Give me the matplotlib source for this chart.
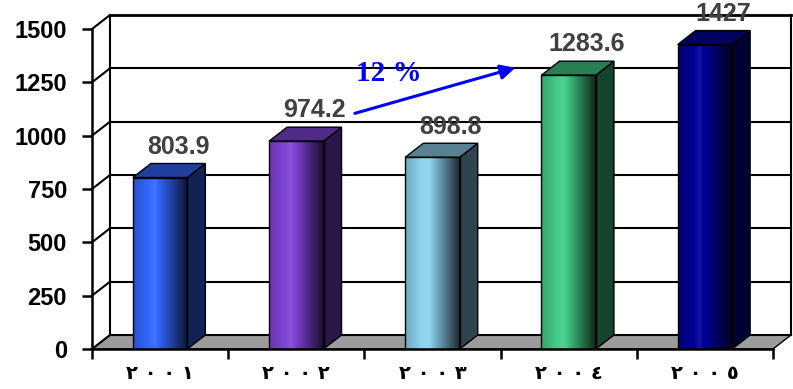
import matplotlib
matplotlib.use('Agg')
import matplotlib.pyplot as plt
import numpy as np
from matplotlib.patches import Polygon, Rectangle
from matplotlib.colors import to_rgb

# data
years = ['٢ ٠ ٠ ١', '٢ ٠ ٠ ٢', '٢ ٠ ٠ ٣', '٢ ٠ ٠ ٤', '٢ ٠ ٠ ٥']
values = [803.9, 974.2, 898.8, 1283.6, 1427]
value_labels = ['803.9', '974.2', '898.8', '1283.6', '1427']
bar_colors = ['#3366ff', '#8044d8', '#8cd2ee', '#44cc88', '#000099']
y_ticks = [0, 250, 500, 750, 1000, 1250, 1500]
growth_text = '12 %'

W, H = 793, 389
fig = plt.figure(figsize=(W / 100, H / 100), dpi=100)
ax = fig.add_axes([92 / W, 40 / H, 681 / W, 320 / H])
ax.set_xlim(-0.5, 4.5)
ax.set_ylim(0, 1500)

# depth of the fake 3d box in data units
DX = 18 / 681 * 5
DY = 14 / 320 * 1500
HW = 0.2  # half bar width

# floor
floor = Polygon([(-0.5, 0), (4.5, 0), (4.5 + DX, DY), (-0.5 + DX, DY)],
                closed=True, fc='#9c9c9c', ec='black', lw=1, zorder=1, clip_on=False)
ax.add_patch(floor)

# walls + gridlines
for v in y_ticks:
    lw = 2.0 if v == 1500 else 1.5
    ax.plot([-0.5 + DX, 4.5 + DX], [v + DY, v + DY], color='black', lw=lw, zorder=1.5, clip_on=False)
    ax.plot([-0.5, -0.5 + DX], [v, v + DY], color='black', lw=1.5, zorder=1.5, clip_on=False)
ax.plot([-0.5 + DX, -0.5 + DX], [DY, 1500 + DY], color='black', lw=1.5, zorder=1.5, clip_on=False)
ax.plot([4.5 + DX, 4.5 + DX], [DY, 1500 + DY], color='black', lw=1.5, zorder=1.5, clip_on=False)


def shade(c, f):
    c = np.array(c)
    if f <= 1:
        return c * f
    return c + (1 - c) * (f - 1)


t = np.linspace(0, 1, 64)
prof = np.interp(t, [0, 0.4, 1], [0.8, 1.08, 0.2])

for i, (v, col) in enumerate(zip(values, bar_colors)):
    base = to_rgb(col)
    grad = np.array([shade(base, f) for f in prof])[None, :, :]
    ax.imshow(np.clip(grad, 0, 1), extent=(i - HW, i + HW, 0, v), aspect='auto',
              interpolation='bilinear', zorder=3)
    ax.add_patch(Rectangle((i - HW, 0), 2 * HW, v, fill=False, ec='black', lw=1, zorder=4))
    side = Polygon([(i + HW, 0), (i + HW + DX, DY), (i + HW + DX, v + DY), (i + HW, v)],
                   closed=True, fc=shade(base, 0.33), ec='black', lw=1, zorder=3)
    top = Polygon([(i - HW, v), (i + HW, v), (i + HW + DX, v + DY), (i - HW + DX, v + DY)],
                  closed=True, fc=shade(base, 0.62), ec='black', lw=1, zorder=3)
    ax.add_patch(side)
    ax.add_patch(top)
    ax.annotate(value_labels[i], (i + DX, v + DY), xytext=(0, 7), textcoords='offset points',
                ha='center', va='baseline', fontsize=18, fontweight='bold',
                family='Liberation Sans', color='#404040', zorder=5, annotation_clip=False)

ax.set_xlim(-0.5, 4.5)
ax.set_ylim(0, 1500)

# growth arrow
ax.annotate('', xy=(2.628, 1322), xytext=(1.41, 1101),
            arrowprops=dict(arrowstyle='-|>', color='#0000ff', lw=2.2, mutation_scale=22), zorder=6)
ax.text(1.68, 1258, growth_text, color='#0000ff', fontsize=21, fontweight='bold',
        family='Liberation Serif', ha='center', va='baseline', zorder=6)

# axes
for s in ['top', 'right']:
    ax.spines[s].set_visible(False)
for s in ['left', 'bottom']:
    ax.spines[s].set_linewidth(1.8)
    ax.spines[s].set_zorder(5)
ax.set_yticks(y_ticks)
ax.set_yticklabels([str(v) for v in y_ticks], fontsize=17, fontweight='bold', family='Liberation Sans')
ax.tick_params(axis='y', length=7, width=1.8, pad=11)
ax.set_xticks(range(5))
ax.set_xticklabels(years, fontsize=14, fontweight='bold', family='DejaVu Sans')
ax.set_xticks(np.arange(-0.5, 5, 1), minor=True)
ax.tick_params(axis='x', which='major', length=0, pad=11)
ax.tick_params(axis='x', which='minor', length=7, width=1.8)
ax.patch.set_alpha(0)

fig.savefig('out.png', dpi=100)
